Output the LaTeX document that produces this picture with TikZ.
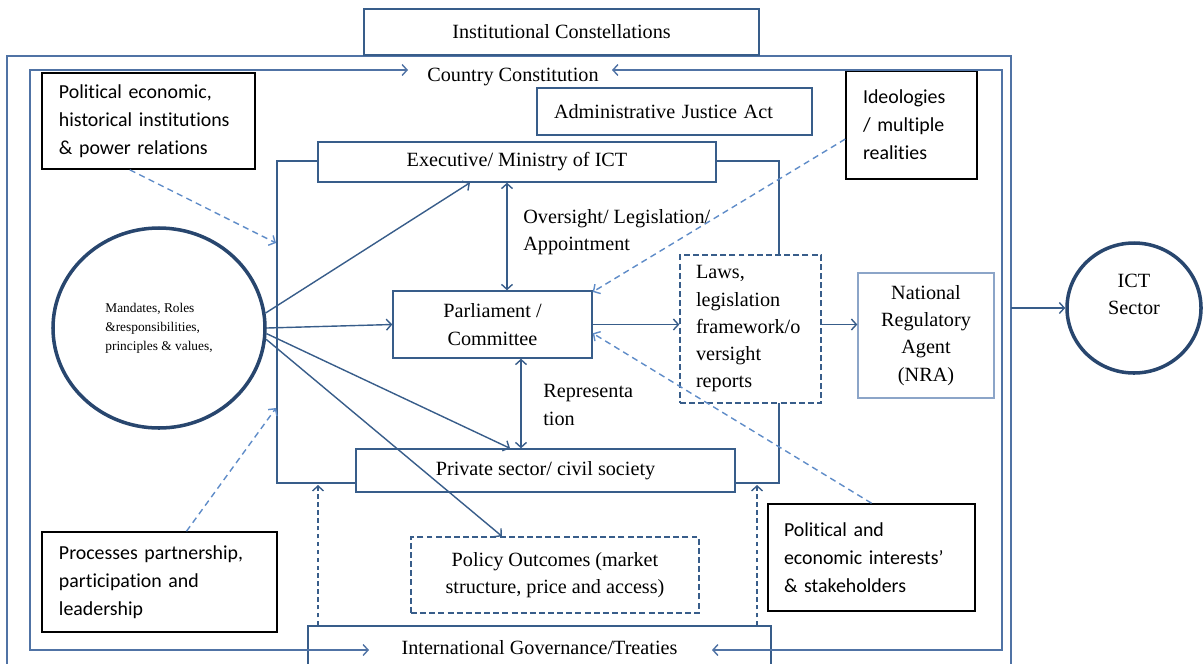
\documentclass[tikz,border=0pt]{standalone}
\usepackage{fontspec}
\setmainfont{Liberation Serif}
\newfontfamily\calfont[Ligatures=NoCommon]{Carlito}
\usetikzlibrary{shapes,arrows.meta,positioning}

\definecolor{lineblue}{RGB}{56,93,138}
\definecolor{ringblue}{RGB}{40,70,110}
\definecolor{hintblue}{RGB}{95,140,200}
\definecolor{paleblue}{RGB}{140,165,200}
\definecolor{frameblue}{RGB}{80,115,165}

\newcommand{\boxfont}{\fontsize{11.5}{15.5}\selectfont}
\newcommand{\notefont}{\calfont\fontsize{11.3}{15.9}\selectfont}

\begin{document}
\begin{tikzpicture}[
    x=0.2mm, y=-0.2mm,
    box/.style={rectangle, draw=lineblue, line width=0.8pt, fill=white, align=center, inner sep=0pt, font=\boxfont},
    dashbox/.style={box, dash pattern=on 3.4pt off 1.8pt},
    note/.style={rectangle, draw=black, line width=0.9pt, fill=white, align=left, inner ysep=0pt, inner xsep=3.4mm, font=\notefont},
    disc/.style={ellipse, draw=ringblue, line width=2pt, fill=white, inner sep=0pt, align=center},
    tag/.style={inner sep=0pt, align=left, font=\boxfont},
    arrow/.style={-{Straight Barb[length=1mm,width=2.2mm]}, draw=lineblue, line width=0.8pt},
    biarrow/.style={arrow, {Straight Barb[length=1mm,width=2.2mm]}-{Straight Barb[length=1mm,width=2.2mm]}},
    hint/.style={arrow, draw=hintblue, dash pattern=on 3.5pt off 2.5pt},
    uparrow/.style={arrow, dash pattern=on 2.5pt off 2pt}
]
    \useasboundingbox (0,0) rectangle (1203,663);

    % frames behind everything
    \draw[frameblue, line width=0.8pt] (7,720) |- (1011,56) -- (1011,720);
    \draw[lineblue, line width=0.8pt] (277,161) rectangle (779,483);

    \node[box, minimum width=79mm, minimum height=9.2mm] (inst) at (561.5,32) {Institutional Constellations};
    \node[tag, align=center] (const) at (513,77) {Country Constitution};
    \node[box, minimum width=55mm, minimum height=9.4mm, text width=48.2mm, inner xsep=3.4mm, align=left] (admin) at (674.5,111.5) {Administrative Justice Act};
    \node[box, minimum width=79.6mm, minimum height=8mm] (exec) at (517,162) {Executive/ Ministry of ICT};
    \node[box, minimum width=39.8mm, minimum height=13.4mm] (parl) at (492.5,324.5) {Parliament /\\Committee};
    \node[dashbox, minimum width=28.2mm, minimum height=29.6mm, text width=21.8mm, inner xsep=3.2mm, align=left] (laws) at (750.5,329) {Laws,\\legislation\\framework/o\\versight\\reports};
    \node[box, draw=paleblue, minimum width=27.2mm, minimum height=25mm] (nra) at (926,335.5) {National\\Regulatory\\Agent\\(NRA)};
    \node[disc, minimum width=26.8mm, minimum height=26mm, font=\boxfont] (ict) at (1134,308) {ICT\\Sector\\~};
    \node[disc, minimum width=42.4mm, minimum height=40mm, font=\fontsize{7.6}{10.8}\selectfont, align=left] (mand) at (159,328) {Mandates, Roles\\\&responsibilities,\\principles \& values,};
    \node[box, minimum width=75.8mm, minimum height=8.6mm] (private) at (545.5,470.5) {Private sector/ civil society};
    \node[dashbox, minimum width=57.6mm, minimum height=15.2mm] (policy) at (555,575) {Policy Outcomes (market\\structure, price and access)};
    \node[box, minimum width=92.6mm, minimum height=8.8mm] (intl) at (539.5,648) {International Governance/Treaties};

    % black notes
    \node[note, text width=35.8mm, minimum height=19.2mm] (polhist) at (148.5,121) {Political economic,\\historical institutions\\\& power relations};
    \node[note, text width=19.4mm, minimum height=21.6mm] (ideol) at (911.5,125) {Ideologies\\/ multiple\\realities};
    \node[note, text width=40.2mm, minimum height=20mm] (proc) at (159.5,582) {Processes partnership,\\participation and\\leadership};
    \node[note, text width=35mm, minimum height=21.4mm, inner xsep=3.2mm] (polint) at (871.5,557.5) {Political and\\economic interests’\\\& stakeholders};

    \node[tag, anchor=west] (over) at (523,232.5) {Oversight/ Legislation/\\Appointment};
    \node[tag, anchor=west] (repr) at (543,405) {Representa\\tion};

    \coordinate (ccL) at (408,70);
    \coordinate (ccR) at (612,70);
    \coordinate (loopTL) at (30,70);
    \coordinate (loopTR) at (1002,70);
    \coordinate (intlL) at (369,650);
    \coordinate (intlR) at (712,650);
    \coordinate (edgeR) at (1011,308);
    \coordinate (pinA) at (276,243);
    \coordinate (pinB) at (276,408);
    \coordinate (upL) at (318,485);
    \coordinate (upR) at (757,485);

    \draw[biarrow, draw=frameblue] (ccL) -- (loopTL) |- (intlL);
    \draw[biarrow, draw=frameblue] (ccR) -- (loopTR) |- (intlR);
    \draw[arrow] (edgeR) -- (ict.west);

    \draw[biarrow] ([xshift=2.9mm]parl.north) -- ([xshift=2.9mm]parl.north |- exec.south);
    \draw[biarrow] ([xshift=5.7mm]parl.south) -- ([xshift=5.7mm]parl.south |- private.north);
    \draw[arrow] (parl.east) -- (parl.east -| laws.west);
    \draw[arrow] (parl.east -| laws.east) -- (parl.east -| nra.west);

    % from the mandates circle
    \draw[arrow] (mand.8) -- ([xshift=-9.4mm]exec.south);
    \draw[arrow] (mand.east) -- (parl.west);
    \draw[arrow] (mand.-3) -- ([xshift=-7.1mm]private.north);
    \draw[arrow] (mand.-6) -- ([xshift=-10.6mm]policy.north);

    % dashed influences
    \draw[hint] (polhist.249) -- (pinA);
    \draw[hint] (proc.62) -- (pinB);
    \draw[hint] (ideol.192) -- (parl.18);
    \draw[hint] (polint.north) -- (parl.-5);
    \draw[uparrow] (upL |- intl.north) -- (upL);
    \draw[uparrow] (upR |- intl.north) -- (upR);
\end{tikzpicture}
\end{document}
